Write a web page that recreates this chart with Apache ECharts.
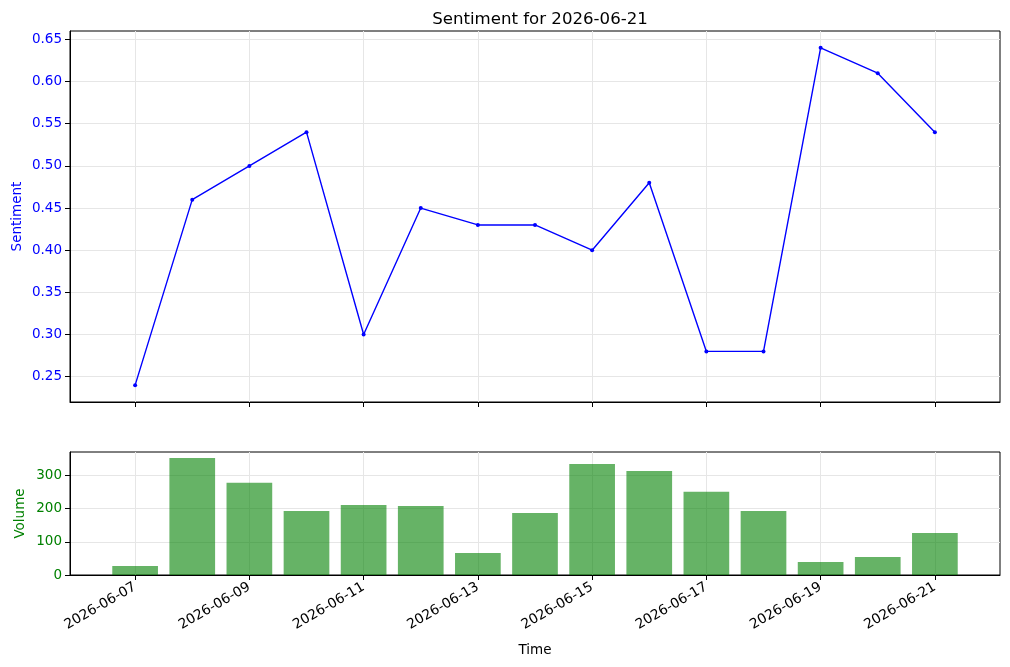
<!DOCTYPE html>
<html>
<head>
<meta charset="utf-8">
<title>Sentiment</title>
<script src="https://cdn.jsdelivr.net/npm/echarts@6/dist/echarts.min.js"></script>
<style>
  html, body { margin: 0; padding: 0; background: #fff; }
  #chart { width: 1010px; height: 667px; }
</style>
</head>
<body>
<div id="chart"></div>
<script>
// data
var dates = ['2026-06-07', '2026-06-08', '2026-06-09', '2026-06-10', '2026-06-11',
    '2026-06-12', '2026-06-13', '2026-06-14', '2026-06-15', '2026-06-16',
    '2026-06-17', '2026-06-18', '2026-06-19', '2026-06-20', '2026-06-21']
var sentiment = [0.24, 0.46, 0.50, 0.54, 0.30, 0.45, 0.43, 0.43, 0.40, 0.48, 0.28, 0.28, 0.64, 0.61, 0.54]
var volume = [27, 353, 278, 193, 211, 208, 66, 187, 335, 314, 251, 193, 39, 54, 127]
var dateTicks = [0, 2, 4, 6, 8, 10, 12, 14]
var sentimentTicks = [0.25, 0.30, 0.35, 0.40, 0.45, 0.50, 0.55, 0.60, 0.65]
var volumeTicks = [0, 100, 200, 300]

var font = 'DejaVu Sans'
var gridLine = { show: true, lineStyle: { color: '#e6e6e6', width: 1 } }
var tick = { show: true, inside: false, length: 5, lineStyle: { color: '#000' } }
var axisLine = { show: true, onZero: false, lineStyle: { color: '#000', width: 1 } }

var chart = echarts.init(document.getElementById('chart'))

chart.setOption({
    animation: false,
    backgroundColor: '#fff',
    title: {
        text: 'Sentiment for 2026-06-21',
        left: 535,
        top: 6,
        textAlign: 'center',
        textStyle: { fontFamily: font, fontSize: 16.6, fontWeight: 'normal', color: '#000' }
    },
    grid: [
        { left: 70, right: 10, top: 31, height: 371, show: true, borderColor: '#000', borderWidth: 1 },
        { left: 70, right: 10, top: 452, height: 123, show: true, borderColor: '#000', borderWidth: 1 }
    ],
    xAxis: [
        {
            type: 'value', gridIndex: 0, min: -1.14, max: 15.14,
            axisLine: axisLine,
            axisTick: Object.assign({ customValues: dateTicks }, tick),
            axisLabel: { show: false, customValues: dateTicks },
            splitLine: gridLine
        },
        {
            type: 'value', gridIndex: 1, min: -1.14, max: 15.14,
            name: 'Time', nameLocation: 'middle', nameGap: 68, nameMoveOverlap: false,
            nameTextStyle: { fontFamily: font, fontSize: 13.5, color: '#000' },
            axisLine: axisLine,
            axisTick: Object.assign({ customValues: dateTicks }, tick),
            axisLabel: {
                customValues: dateTicks,
                rotate: 30,
                margin: 11,
                fontFamily: font,
                fontSize: 13.8,
                color: '#000',
                formatter: function (v) { return dates[Math.round(v)] }
            },
            splitLine: gridLine
        }
    ],
    yAxis: [
        {
            type: 'value', gridIndex: 0, min: 0.22, max: 0.66,
            name: 'Sentiment', nameLocation: 'middle', nameGap: 46, nameMoveOverlap: false,
            nameTextStyle: { fontFamily: font, fontSize: 13.5, color: '#0000ff' },
            axisLine: axisLine,
            axisTick: Object.assign({ customValues: sentimentTicks }, tick),
            axisLabel: {
                customValues: sentimentTicks,
                margin: 8,
                fontFamily: font, fontSize: 13.5, color: '#0000ff',
                formatter: function (v) { return v.toFixed(2) }
            },
            splitLine: gridLine
        },
        {
            type: 'value', gridIndex: 1, min: 0, max: 371,
            name: 'Volume', nameLocation: 'middle', nameGap: 43, nameMoveOverlap: false,
            nameTextStyle: { fontFamily: font, fontSize: 13.5, color: '#008000' },
            axisLine: axisLine,
            axisTick: Object.assign({ customValues: volumeTicks }, tick),
            axisLabel: {
                customValues: volumeTicks,
                margin: 8,
                fontFamily: font, fontSize: 13.5, color: '#008000'
            },
            splitLine: gridLine
        }
    ],
    series: [
        {
            name: 'Sentiment',
            type: 'line',
            xAxisIndex: 0,
            yAxisIndex: 0,
            data: sentiment.map(function (v, i) { return [i, v] }),
            symbol: 'circle',
            symbolSize: 4,
            lineStyle: { color: '#0000ff', width: 1.4 },
            itemStyle: { color: '#0000ff' }
        },
        {
            name: 'Volume',
            type: 'bar',
            xAxisIndex: 1,
            yAxisIndex: 1,
            data: volume.map(function (v, i) { return [i, v] }),
            barWidth: 45.7,
            itemStyle: { color: 'rgba(0,128,0,0.6)' }
        }
    ]
})
</script>
</body>
</html>
